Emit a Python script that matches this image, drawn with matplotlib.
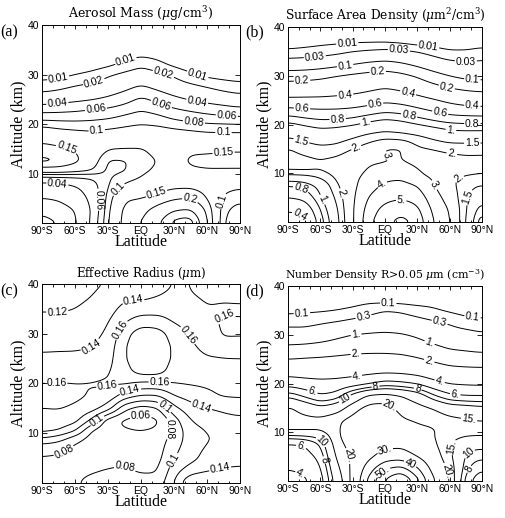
import numpy as np
import matplotlib
matplotlib.use('Agg')
import matplotlib.pyplot as plt

plt.rcParams['font.family'] = 'Liberation Sans'
plt.rcParams['mathtext.fontset'] = 'dejavuserif'
plt.rcParams['contour.negative_linestyle'] = 'solid'

# grid: one column per latitude, values from 0 km up to 40 km
LAT = [-90, -75, -60, -45, -30, -15, 0, 15, 30, 45, 60, 75, 90]
ALT = [0, 2.5, 5, 7.5, 9, 10.5, 12.5, 15, 17.5, 20, 22.5, 25, 27.5, 30, 32.5, 35, 37.5, 40]

mass = [
    [0.008, 0.011, 0.02, 0.034, 0.05, 0.12, 0.22, 0.17, 0.13, 0.093, 0.058, 0.030, 0.0148, 0.0070, 0.0034, 0.0016, 0.0008, 0.0004],
    [0.010, 0.014, 0.022, 0.035, 0.052, 0.12, 0.205, 0.16, 0.12, 0.089, 0.059, 0.033, 0.017, 0.0078, 0.0037, 0.0018, 0.0009, 0.00045],
    [0.018, 0.02, 0.03, 0.04, 0.055, 0.11, 0.165, 0.145, 0.115, 0.087, 0.061, 0.036, 0.0213, 0.0100, 0.0046, 0.0021, 0.0010, 0.0005],
    [0.045, 0.042, 0.045, 0.05, 0.06, 0.1, 0.12, 0.13, 0.11, 0.087, 0.065, 0.039, 0.0246, 0.0126, 0.0055, 0.0024, 0.0011, 0.0005],
    [0.1, 0.095, 0.088, 0.08, 0.077, 0.075, 0.077, 0.102, 0.115, 0.090, 0.068, 0.044, 0.029, 0.0185, 0.0070, 0.0029, 0.0012, 0.0005],
    [0.17, 0.165, 0.145, 0.105, 0.092, 0.078, 0.078, 0.1, 0.118, 0.095, 0.075, 0.052, 0.035, 0.0234, 0.0112, 0.0045, 0.0018, 0.0007],
    [0.2, 0.18, 0.15, 0.115, 0.102, 0.095, 0.09, 0.098, 0.125, 0.099, 0.082, 0.065, 0.043, 0.028, 0.016, 0.0058, 0.0022, 0.0008],
    [0.28, 0.23, 0.165, 0.13, 0.115, 0.105, 0.1, 0.11, 0.125, 0.096, 0.076, 0.055, 0.0356, 0.0236, 0.0119, 0.0050, 0.0020, 0.0008],
    [0.45, 0.3, 0.19, 0.14, 0.125, 0.12, 0.125, 0.135, 0.12, 0.089, 0.067, 0.045, 0.029, 0.0185, 0.0070, 0.0029, 0.0012, 0.0005],
    [0.5, 0.32, 0.2, 0.14, 0.13, 0.14, 0.16, 0.14, 0.115, 0.085, 0.061, 0.0386, 0.0245, 0.0117, 0.0048, 0.0022, 0.0010, 0.00045],
    [0.21, 0.19, 0.15, 0.13, 0.13, 0.145, 0.165, 0.14, 0.11, 0.082, 0.056, 0.0344, 0.020, 0.0080, 0.0038, 0.0018, 0.0009, 0.00045],
    [0.08, 0.085, 0.095, 0.11, 0.125, 0.145, 0.165, 0.145, 0.11, 0.081, 0.0523, 0.031, 0.0159, 0.0070, 0.0033, 0.0016, 0.0008, 0.0004],
    [0.06, 0.07, 0.085, 0.105, 0.12, 0.145, 0.165, 0.145, 0.11, 0.080, 0.0495, 0.0272, 0.0135, 0.0064, 0.0030, 0.0015, 0.0007, 0.00035],
]

sad = [
    [0.3, 0.42, 0.6, 0.8, 1.15, 2.0, 2.3, 2.05, 1.48, 1.07, 0.72, 0.45, 0.27, 0.154, 0.055, 0.0132, 0.0033, 0.0011],
    [0.35, 0.45, 0.65, 0.85, 1.2, 2.05, 2.2, 1.78, 1.33, 0.97, 0.68, 0.45, 0.28, 0.159, 0.058, 0.0149, 0.0043, 0.0015],
    [0.7, 0.8, 0.95, 1.1, 1.5, 2.0, 2.05, 1.62, 1.22, 0.905, 0.66, 0.45, 0.29, 0.172, 0.066, 0.0173, 0.0055, 0.0017],
    [1.3, 1.4, 1.6, 1.9, 2.1, 2.3, 2.2, 1.68, 1.27, 0.92, 0.66, 0.46, 0.31, 0.2, 0.078, 0.0219, 0.0059, 0.0019],
    [3.0, 3.0, 2.9, 2.8, 2.8, 2.7, 2.6, 2.0, 1.43, 0.97, 0.68, 0.48, 0.33, 0.226, 0.095, 0.030, 0.0063, 0.002],
    [4.8, 4.5, 4.1, 3.6, 3.3, 3.1, 2.9, 2.4, 1.66, 1.08, 0.74, 0.51, 0.365, 0.248, 0.116, 0.036, 0.0064, 0.0021],
    [5.8, 5.4, 4.7, 4.2, 3.8, 3.3, 2.95, 3.1, 1.81, 1.18, 0.8, 0.56, 0.4, 0.265, 0.13, 0.041, 0.0065, 0.0021],
    [6.3, 5.8, 4.9, 4.4, 3.9, 3.4, 3.05, 3.1, 1.73, 1.11, 0.77, 0.53, 0.367, 0.238, 0.109, 0.0385, 0.0053, 0.0018],
    [5.8, 5.3, 4.6, 4.0, 3.3, 3.1, 2.8, 2.1, 1.59, 1.0, 0.69, 0.48, 0.31, 0.188, 0.082, 0.030, 0.0036, 0.0012],
    [4.0, 3.8, 3.5, 3.1, 2.95, 2.6, 2.4, 1.97, 1.38, 0.91, 0.62, 0.42, 0.25, 0.134, 0.059, 0.0194, 0.0031, 0.0011],
    [3.2, 3.0, 2.6, 2.2, 2.05, 2.2, 2.25, 1.85, 1.2, 0.85, 0.55, 0.36, 0.2, 0.1, 0.042, 0.012, 0.0026, 0.0009],
    [1.5, 1.55, 1.55, 1.7, 1.95, 2.1, 2.15, 1.83, 1.19, 0.83, 0.53, 0.32, 0.176, 0.08, 0.035, 0.0115, 0.0035, 0.0012],
    [0.6, 0.8, 1.1, 1.45, 1.9, 2.05, 2.15, 1.85, 1.2, 0.83, 0.52, 0.30, 0.164, 0.077, 0.039, 0.0147, 0.0044, 0.0013],
]

reff = [
    [0.07, 0.072, 0.078, 0.094, 0.12, 0.145, 0.152, 0.16, 0.166, 0.16, 0.152, 0.144, 0.136, 0.131, 0.126, 0.118, 0.112, 0.106],
    [0.072, 0.074, 0.076, 0.09, 0.11, 0.14, 0.152, 0.161, 0.167, 0.161, 0.152, 0.144, 0.137, 0.132, 0.125, 0.118, 0.112, 0.106],
    [0.078, 0.076, 0.074, 0.077, 0.09, 0.122, 0.147, 0.157, 0.164, 0.16, 0.152, 0.143, 0.138, 0.132, 0.125, 0.12, 0.115, 0.11],
    [0.085, 0.078, 0.072, 0.07, 0.072, 0.078, 0.115, 0.15, 0.158, 0.161, 0.153, 0.145, 0.139, 0.134, 0.13, 0.125, 0.12, 0.116],
    [0.09, 0.081, 0.074, 0.072, 0.068, 0.066, 0.068, 0.13, 0.155, 0.162, 0.158, 0.152, 0.148, 0.143, 0.138, 0.132, 0.127, 0.122],
    [0.092, 0.083, 0.075, 0.07, 0.066, 0.062, 0.056, 0.085, 0.13, 0.163, 0.172, 0.178, 0.178, 0.172, 0.158, 0.146, 0.136, 0.128],
    [0.09, 0.077, 0.072, 0.068, 0.065, 0.06, 0.05, 0.07, 0.118, 0.156, 0.19, 0.196, 0.197, 0.192, 0.17, 0.15, 0.135, 0.125],
    [0.088, 0.078, 0.073, 0.07, 0.068, 0.063, 0.056, 0.078, 0.118, 0.156, 0.19, 0.195, 0.195, 0.19, 0.168, 0.152, 0.14, 0.132],
    [0.12, 0.112, 0.1, 0.093, 0.088, 0.085, 0.09, 0.115, 0.14, 0.16, 0.17, 0.176, 0.176, 0.17, 0.158, 0.152, 0.145, 0.14],
    [0.162, 0.13, 0.113, 0.11, 0.11, 0.112, 0.12, 0.132, 0.148, 0.162, 0.166, 0.165, 0.162, 0.157, 0.153, 0.152, 0.158, 0.164],
    [0.165, 0.138, 0.128, 0.121, 0.118, 0.121, 0.128, 0.14, 0.156, 0.163, 0.165, 0.161, 0.156, 0.155, 0.156, 0.159, 0.163, 0.167],
    [0.158, 0.142, 0.133, 0.128, 0.127, 0.13, 0.135, 0.143, 0.162, 0.164, 0.164, 0.16, 0.157, 0.161, 0.162, 0.158, 0.162, 0.166],
    [0.15, 0.143, 0.135, 0.13, 0.128, 0.132, 0.137, 0.145, 0.163, 0.165, 0.163, 0.16, 0.156, 0.161, 0.161, 0.158, 0.163, 0.166],
]

numden = [
    [3.5, 4.0, 5.0, 5.8, 8.5, 16, 17, 16, 9.5, 5.2, 3.3, 2.0, 1.1, 0.6, 0.2, 0.075, 0.035, 0.015],
    [3.7, 4.3, 5.2, 6.0, 9.0, 16, 16.5, 13.2, 7.6, 4.8, 3.2, 2.1, 1.2, 0.54, 0.21, 0.08, 0.036, 0.016],
    [5.0, 5.6, 6.5, 8.0, 10.5, 15.5, 16.5, 10.7, 6.1, 4.5, 3.2, 2.16, 1.31, 0.64, 0.27, 0.086, 0.038, 0.017],
    [12, 14, 16.5, 18.5, 19.5, 19.5, 19, 12.4, 6.8, 4.6, 3.26, 2.25, 1.45, 0.83, 0.33, 0.1, 0.045, 0.02],
    [22, 21.5, 21, 22, 22.5, 22.5, 22, 18.1, 11.3, 5.0, 3.36, 2.35, 1.58, 1.03, 0.43, 0.13, 0.05, 0.021],
    [45, 36, 28, 25, 24, 24, 24, 22, 16.3, 5.75, 3.53, 2.4, 1.63, 1.1, 0.55, 0.2, 0.058, 0.024],
    [62, 50, 35, 27, 26, 26, 25, 22, 17.2, 6.9, 3.67, 2.41, 1.63, 1.14, 0.63, 0.3, 0.05, 0.02],
    [75, 55, 36, 28, 25, 23, 20.5, 18.5, 15.3, 6.5, 3.6, 2.34, 1.57, 1.08, 0.57, 0.26, 0.045, 0.018],
    [55, 42, 30, 24, 22, 21, 19.5, 17, 12.4, 5.85, 3.33, 2.11, 1.4, 0.9, 0.47, 0.18, 0.04, 0.017],
    [31, 27, 24, 21.5, 20.5, 20.5, 18.5, 14.7, 8.3, 4.65, 2.86, 1.8, 1.15, 0.66, 0.36, 0.12, 0.05, 0.02],
    [21, 19, 16.5, 15.5, 16.5, 17.5, 16.5, 12, 6.4, 3.93, 2.49, 1.53, 0.91, 0.51, 0.27, 0.083, 0.038, 0.017],
    [7, 8.5, 9.5, 11, 15, 16.5, 15.5, 11.5, 6.0, 3.79, 2.4, 1.44, 0.84, 0.48, 0.17, 0.06, 0.03, 0.014],
    [4.5, 6, 8.5, 11, 14.5, 17, 14.8, 10.7, 6.0, 3.72, 2.36, 1.4, 0.75, 0.36, 0.14, 0.054, 0.026, 0.012],
]

mass_levels = [0.01, 0.02, 0.04, 0.06, 0.08, 0.1, 0.15, 0.2, 0.3, 0.4]
sad_levels = [0.01, 0.03, 0.1, 0.2, 0.4, 0.6, 0.8, 1, 1.5, 2, 3, 4, 5, 6]
reff_levels = [0.06, 0.08, 0.1, 0.12, 0.14, 0.16, 0.18]
numden_levels = [0.1, 0.3, 1, 2, 4, 6, 8, 10, 15, 20, 30, 40, 50, 60, 70]

# where the contour labels sit in the reference (latitude, altitude)
mass_label_at = [(-75, 28.9), (-14, 32.9), (51, 29.6), (-43, 28.6), (21, 30.6), (-76, 24.1), (51, 24.5),
                 (-41, 23), (18, 23.7), (78, 21.6), (48, 20.2), (-40, 18.2), (75, 18.2), (-67, 15.5),
                 (75, 14.5), (-76, 8.1), (-41, 4.7), (-20, 6.7), (14, 6.0), (45, 5.0), (69, 4.7)]
sad_label_at = [(-35, 36.6), (40, 35.9), (-65, 33.5), (13, 35.7), (75, 32.8), (-37, 32.1), (81, 29.1),
                (-77, 29.1), (-7, 31.5), (57, 27.4), (-37, 26), (22, 27), (81, 23.7), (-77, 23.5),
                (-9, 23.9), (51, 22.2), (-44, 21.2), (22, 21.5), (81, 20.2), (-18, 20.2), (61, 18.5),
                (-77, 17.1), (81, 15.9), (-27, 15.4), (62, 14), (0, 13.3), (68, 9.2), (-77, 7.5),
                (-53, 5.1), (-34, 6.2), (-77, 2.4), (-2, 7.5), (15, 4.3), (45, 7.5), (74, 5.3)]
reff_label_at = [(-7, 36.6), (-76, 33.6), (75, 34.6), (-45, 27.3), (-17, 30.6), (40, 29.3), (-77, 19.9),
                 (-31, 19.9), (17, 19.9), (-10, 18.7), (55, 15.5), (0, 12.8), (-39, 12.3), (23, 15.7),
                 (26, 10.9), (-70, 6.3), (28, 4.8), (-16, 1.5), (72, 2.8)]
numden_label_at = [(-77, 34), (3, 36.4), (81, 33.3), (-21, 34.7), (50, 32), (-27, 30.2), (40, 27.5),
                   (-27, 26.1), (40, 23.8), (-26, 21.3), (50, 19.9), (-68, 17.9), (-9, 19.7), (65, 17.5),
                   (-38, 17.2), (30, 18.6), (6, 16.2), (78, 12.7), (-58, 8.3), (-77, 7.7), (-56, 4.3),
                   (-77, 2.2), (-31, 5.3), (0, 6.3), (25, 4.3), (-3, 2.2), (62, 7), (74, 6.7),
                   (59, 2.2), (80, 2.2)]

xtick_pos = [-90, -60, -30, 0, 30, 60, 90]
xtick_lab = ['90°S', '60°S', '30°S', 'EQ', '30°N', '60°N', '90°N']

fine_lat = np.linspace(-90, 90, 181)
fine_alt = np.linspace(0, 40, 201)


def smooth(f, sig, axis):
    n = int(3 * sig) + 1
    k = np.exp(-0.5 * (np.arange(-n, n + 1) / sig) ** 2)
    k /= k.sum()
    pad = [(0, 0), (0, 0)]
    pad[axis] = (n, n)
    fp = np.pad(f, pad, mode='reflect')
    return np.apply_along_axis(lambda v: np.convolve(v, k, mode='valid'), axis, fp)


def refine(cols, log):
    z = np.array(cols, float).T
    if log:
        z = np.log10(z)
    f = np.array([np.interp(fine_lat, LAT, row) for row in z])
    f = np.array([np.interp(fine_alt, ALT, col) for col in f.T]).T
    f = smooth(f, 2.5, 0)
    f = smooth(f, 4, 1)
    return f


def label_text(v, nodot=()):
    v = float('%.3g' % v)
    if v < 1:
        return '%g' % v
    if v == int(v):
        return '%d' % v if int(v) in nodot else '%d.' % v
    return '%g' % v


panels = [
    ([0.0832, 0.5695, 0.392, 0.3822], r'Aerosol Mass ($\mu$g/cm$^3$)', 9, mass, mass_levels, True,
     '(a)', (0.0, 0.938), (), mass_label_at),
    ([0.5703, 0.5714, 0.3842, 0.3765], r'Surface Area Density ($\mu$m$^2$/cm$^3$)', 8.8, sad, sad_levels, True,
     '(b)', (0.485, 0.938), (), sad_label_at),
    ([0.0832, 0.0676, 0.392, 0.3842], r'Effective Radius ($\mu$m)', 8.5, reff, reff_levels, False,
     '(c)', (0.0, 0.437), (), reff_label_at),
    ([0.5703, 0.0714, 0.3842, 0.3765], r'Number Density R>0.05 $\mu$m (cm$^{-3}$)', 7.9, numden, numden_levels, True,
     '(d)', (0.485, 0.437), (8, 10, 40), numden_label_at),
]

fig = plt.figure(figsize=(5.05, 5.18), dpi=100)

for rect, title, tsize, cols, levels, log, letter, lpos, nodot, label_at in panels:
    ax = fig.add_axes(rect)
    ax.set_xlim(-90, 90)
    ax.set_ylim(0, 40)
    f = refine(cols, log)
    lv = np.log10(levels) if log else np.array(levels)
    cs = ax.contour(fine_lat, fine_alt, f, levels=lv, colors='k', linewidths=0.7)
    if log:
        fmt = lambda x, nd=nodot: label_text(10 ** x, nd)
    else:
        fmt = lambda x, nd=nodot: label_text(x, nd)
    ax.clabel(cs, fmt=fmt, fontsize=7.5, inline=True, inline_spacing=1, manual=label_at)

    ax.set_xticks(xtick_pos, xtick_lab)
    ax.set_xticks(np.arange(-90, 91, 10), minor=True)
    ax.set_yticks([10, 20, 30, 40])
    ax.tick_params(axis='both', which='both', direction='in', top=True, right=True,
                   labelsize=7.5, width=0.6, pad=2)
    ax.tick_params(axis='x', which='major', length=3)
    ax.tick_params(axis='x', which='minor', length=1.8)
    ax.tick_params(axis='y', which='major', length=3.5)
    for sp in ax.spines.values():
        sp.set_linewidth(0.7)
    ax.set_xlabel('Latitude', family='Liberation Serif', fontsize=11.5, labelpad=-1)
    ax.set_ylabel('Altitude (km)', family='Liberation Serif', fontsize=11.5, labelpad=1)
    ax.set_title(title, family='DejaVu Serif', fontsize=tsize, pad=5)
    fig.text(lpos[0], lpos[1], letter, family='Liberation Serif', fontsize=11.5, va='center', ha='left')

fig.savefig('out.png', dpi=100)
